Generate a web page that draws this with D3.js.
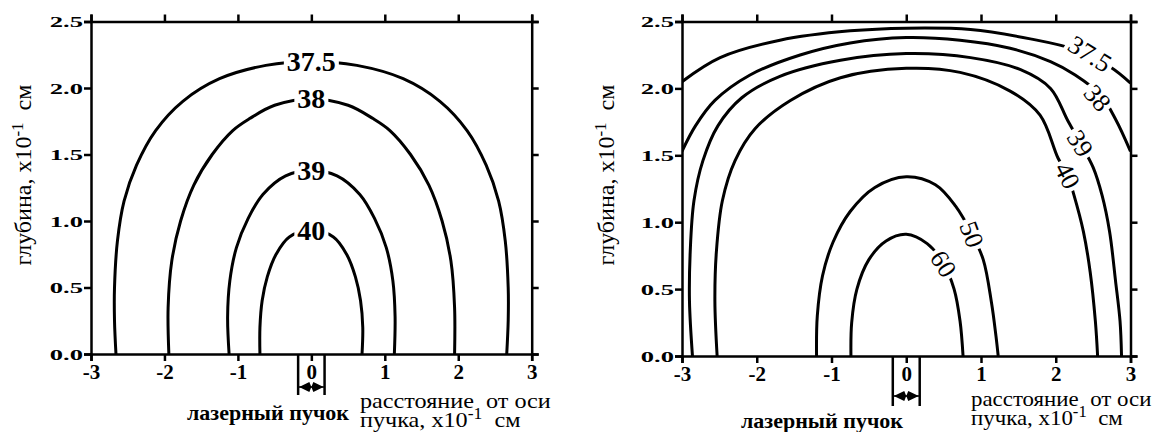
<!DOCTYPE html>
<html>
<head>
<meta charset="utf-8">
<script src="https://cdn.jsdelivr.net/npm/d3@7"></script>
<style>
body { margin: 0; background: #fff; }
svg text { font-family: "Liberation Serif", "Times New Roman", serif; fill: #000; }
</style>
</head>
<body>
<script>
// axis ticks
var xTicks = [-3, -2, -1, 0, 1, 2, 3];
var yTicks = [0, 0.5, 1, 1.5, 2, 2.5];
var yTickLabels = ['0.0', '0.5', '1.0', '1.5', '2.0', '2.5'];
var beamRadius = 0.18;

// left panel contours, [distance, depth]
var left375 = [[-2.66, 0], [-2.68, 0.25], [-2.68, 0.5], [-2.64, 0.85], [-2.55, 1.15], [-2.38, 1.42], [-2.12, 1.68], [-1.75, 1.9], [-1.25, 2.07], [-0.62, 2.17], [0, 2.2],
	[0.62, 2.17], [1.25, 2.07], [1.75, 1.9], [2.12, 1.68], [2.38, 1.42], [2.55, 1.15], [2.64, 0.85], [2.68, 0.5], [2.68, 0.25], [2.66, 0]];
var left38 = [[-1.94, 0], [-1.95, 0.35], [-1.9, 0.7], [-1.78, 1.0], [-1.6, 1.27], [-1.35, 1.5], [-1.07, 1.68], [-0.84, 1.77], [-0.5, 1.87], [0, 1.92],
	[0.5, 1.87], [0.84, 1.77], [1.07, 1.68], [1.35, 1.5], [1.6, 1.27], [1.78, 1.0], [1.9, 0.7], [1.95, 0.35], [1.95, 0]];
var left39 = [[-1.12, 0], [-1.14, 0.28], [-1.11, 0.55], [-1.02, 0.8], [-0.86, 1.02], [-0.66, 1.2], [-0.35, 1.34], [0, 1.38],
	[0.35, 1.34], [0.66, 1.2], [0.86, 1.02], [1.02, 0.8], [1.11, 0.55], [1.14, 0.28], [1.13, 0]];
var left40 = [[-0.70, 0], [-0.70, 0.2], [-0.67, 0.4], [-0.6, 0.58], [-0.48, 0.75], [-0.3, 0.88], [0, 0.93],
	[0.3, 0.88], [0.48, 0.75], [0.6, 0.58], [0.67, 0.4], [0.70, 0.2], [0.69, 0]];
var leftLevels = ['37.5', '38', '39', '40'];
var leftLabelX = [0, 0, 0, 0];
var leftLabelDepth = [2.2, 1.92, 1.38, 0.93];

// right panel contours
var right375 = [[-3.0, 2.05], [-2.49, 2.23], [-1.69, 2.36], [-0.75, 2.43], [0, 2.45], [0.86, 2.44], [1.66, 2.37], [2.26, 2.29], [2.73, 2.16], [3.0, 2.04]];
var right38 = [[-3.0, 1.53], [-2.82, 1.72], [-2.56, 1.91], [-2.09, 2.10], [-1.42, 2.25], [-0.75, 2.34], [0, 2.38], [0.72, 2.36], [1.39, 2.30],
	[1.93, 2.20], [2.26, 2.10], [2.60, 1.95], [2.80, 1.77], [3.0, 1.53]];
var right39 = [[-2.86, 0], [-2.90, 0.41], [-2.89, 0.78], [-2.84, 1.16], [-2.72, 1.46], [-2.52, 1.72], [-2.20, 1.93], [-1.69, 2.09], [-0.88, 2.21], [0, 2.26],
	[0.86, 2.23], [1.53, 2.14], [1.93, 2.0], [2.16, 1.76], [2.33, 1.59], [2.50, 1.41], [2.62, 1.2], [2.72, 0.93], [2.80, 0.56], [2.86, 0.26], [2.88, 0]];
var right40 = [[-2.53, 0], [-2.56, 0.41], [-2.54, 0.78], [-2.46, 1.16], [-2.29, 1.46], [-2.02, 1.70], [-1.55, 1.91], [-0.88, 2.08], [0, 2.15],
	[0.72, 2.12], [1.39, 1.98], [1.79, 1.80], [2.03, 1.48], [2.16, 1.35], [2.24, 1.21], [2.37, 0.93], [2.46, 0.63], [2.53, 0.26], [2.56, 0]];
var right50 = [[-1.20, 0], [-1.19, 0.3], [-1.12, 0.6], [-0.98, 0.85], [-0.75, 1.08], [-0.42, 1.26], [0, 1.34], [0.39, 1.28], [0.66, 1.12],
	[0.88, 0.91], [1.03, 0.72], [1.14, 0.4], [1.20, 0.15], [1.23, 0]];
var right60 = [[-0.74, 0], [-0.73, 0.25], [-0.66, 0.5], [-0.5, 0.72], [-0.27, 0.86], [0, 0.91], [0.28, 0.84], [0.50, 0.69], [0.64, 0.5],
	[0.72, 0.26], [0.76, 0]];
var rightLevels = ['37.5', '38', '39', '40', '50', '60'];
var rightLabelX = [2.46, 2.56, 2.33, 2.16, 0.88, 0.50];
var rightLabelDepth = [2.26, 1.93, 1.59, 1.35, 0.91, 0.69];
var rightLabelAngle = [32, 50, 57, 63, 70, 58];

var svg = d3.select('body').append('svg')
	.attr('width', 1164)
	.attr('height', 432);

function drawPanel(p) {
	var g = svg.append('g');
	var x = d3.scaleLinear().domain([-3, 3]).range([p.left, p.right]);
	var y = d3.scaleLinear().domain([0, 2.5]).range([p.bottom, p.top]);

	g.append('clipPath').attr('id', p.id + '-clip')
		.append('rect')
		.attr('x', p.left).attr('y', p.top)
		.attr('width', p.right - p.left).attr('height', p.bottom - p.top);

	var line = d3.line()
		.x(d => x(d[0]))
		.y(d => y(d[1]))
		.curve(d3.curveCatmullRom.alpha(0.5));

	var lines = g.append('g').attr('clip-path', 'url(#' + p.id + '-clip)');
	p.contours.forEach(c => {
		lines.append('path')
			.attr('d', line(c))
			.attr('fill', 'none')
			.attr('stroke', '#000')
			.attr('stroke-width', 3);
	});

	// contour labels with a white gap behind them
	p.levels.forEach((lev, i) => {
		var lg = g.append('g')
			.attr('transform', `translate(${x(p.labelX[i])},${y(p.labelDepth[i])}) rotate(${p.labelAngle ? p.labelAngle[i] : 0})`);
		var bg = lg.append('rect').attr('fill', '#fff');
		var t = lg.append('text')
			.attr('text-anchor', 'middle')
			.attr('dy', '0.35em')
			.attr('font-size', p.labelSize)
			.attr('font-weight', p.labelBold ? 'bold' : 'normal')
			.text(lev);
		var bb = t.node().getBBox();
		bg.attr('x', bb.x - 3).attr('y', bb.y + 3)
			.attr('width', bb.width + 6).attr('height', bb.height - 6);
	});

	// frame: four axes with outward ticks
	var axes = [
		[d3.axisLeft(y).tickValues(yTicks), `translate(${p.left},0)`],
		[d3.axisRight(y).tickValues(yTicks).tickFormat(''), `translate(${p.right},0)`],
		[d3.axisTop(x).tickValues(xTicks).tickFormat(''), `translate(0,${p.top})`],
		[d3.axisBottom(x).tickValues(xTicks).tickFormat(d => String(d)).tickPadding(3), `translate(0,${p.bottom})`]
	];
	axes.forEach((a, k) => {
		var ag = g.append('g')
			.attr('transform', a[1])
			.call(a[0].tickSize(7).tickSizeOuter(7));
		ag.select('.domain').attr('stroke-width', 2.5);
		ag.selectAll('.tick line').attr('stroke-width', 2.5);
		ag.selectAll('text').attr('font-family', null).attr('fill', null);
		if (k === 0) {
			ag.selectAll('text')
				.text((d, i) => yTickLabels[i])
				.attr('x', 0)
				.attr('dy', '0.36em')
				.attr('font-size', 14)
				.attr('font-weight', 'bold')
				.attr('transform', 'translate(-8,0) scale(1.9,1)');
		}
		if (k === 3) {
			ag.selectAll('text')
				.attr('font-size', 21)
				.attr('font-weight', 'bold');
		}
	});

	// laser beam marker under the axis
	var bx0 = x(-beamRadius), bx1 = x(beamRadius);
	[bx0, bx1].forEach(bx => {
		g.append('line')
			.attr('x1', bx).attr('x2', bx)
			.attr('y1', p.bottom).attr('y2', p.bottom + p.beamLen)
			.attr('stroke', '#000').attr('stroke-width', 2.5);
	});
	var ay = p.bottom + p.arrowOffset;
	var xc = x(0);
	g.append('path')
		.attr('d', `M${bx0 + 1},${ay} L${xc - 2},${ay - 5} L${xc},${ay} L${xc - 2},${ay + 5} Z M${bx1 - 1},${ay} L${xc + 2},${ay - 5} L${xc},${ay} L${xc + 2},${ay + 5} Z`)
		.attr('fill', '#000');
	g.append('line')
		.attr('x1', bx0).attr('x2', bx1)
		.attr('y1', ay).attr('y2', ay)
		.attr('stroke', '#000').attr('stroke-width', 1.5);

	g.append('text')
		.attr('x', p.beamTextX).attr('y', p.beamTextY)
		.attr('text-anchor', 'middle')
		.attr('font-size', 22)
		.attr('font-weight', 'bold')
		.text('лазерный пучок');

	// axis titles, two lines set close as in the source
	var sx = `translate(${p.xTitleX},0) scale(${p.xTitleScale},1) translate(${-p.xTitleX},0)`;
	g.append('text')
		.attr('x', p.xTitleX).attr('y', p.xTitleY)
		.attr('font-size', 22)
		.style('white-space', 'pre')
		.attr('transform', sx)
		.text('расстояние  от оси');
	var t2 = g.append('text')
		.attr('x', p.xTitleX).attr('y', p.xTitleY + 19)
		.attr('font-size', 22)
		.style('white-space', 'pre')
		.attr('transform', sx);
	t2.append('tspan').text('пучка, x10');
	t2.append('tspan').attr('dy', -8).attr('font-size', 16).text('-1');
	t2.append('tspan').attr('dy', 8).text('  см');

	var yt = g.append('text')
		.attr('transform', `translate(${p.yTitleX},${p.yTitleY}) rotate(-90)`)
		.attr('text-anchor', 'middle')
		.attr('font-size', 24)
		.style('white-space', 'pre');
	yt.append('tspan').text('глубина, x10');
	yt.append('tspan').attr('dy', -8).attr('font-size', 17).text('-1');
	yt.append('tspan').attr('dy', 8).text('  см');
}

drawPanel({
	id: 'left', left: 91, right: 531.7, top: 21.5, bottom: 354,
	contours: [left375, left38, left39, left40],
	levels: leftLevels, labelX: leftLabelX, labelDepth: leftLabelDepth,
	labelSize: 28, labelBold: true,
	beamLen: 41, arrowOffset: 33,
	beamTextX: 268, beamTextY: 420,
	xTitleX: 360, xTitleY: 408, xTitleScale: 1.1,
	yTitleX: 31, yTitleY: 175
});

drawPanel({
	id: 'right', left: 682, right: 1130.5, top: 21.5, bottom: 356,
	contours: [right375, right38, right39, right40, right50, right60],
	levels: rightLevels, labelX: rightLabelX, labelDepth: rightLabelDepth, labelAngle: rightLabelAngle,
	labelSize: 26, labelBold: false,
	beamLen: 50, arrowOffset: 40,
	beamTextX: 822, beamTextY: 428,
	xTitleX: 971, xTitleY: 406, xTitleScale: 1.04,
	yTitleX: 614, yTitleY: 175
});
</script>
</body>
</html>
